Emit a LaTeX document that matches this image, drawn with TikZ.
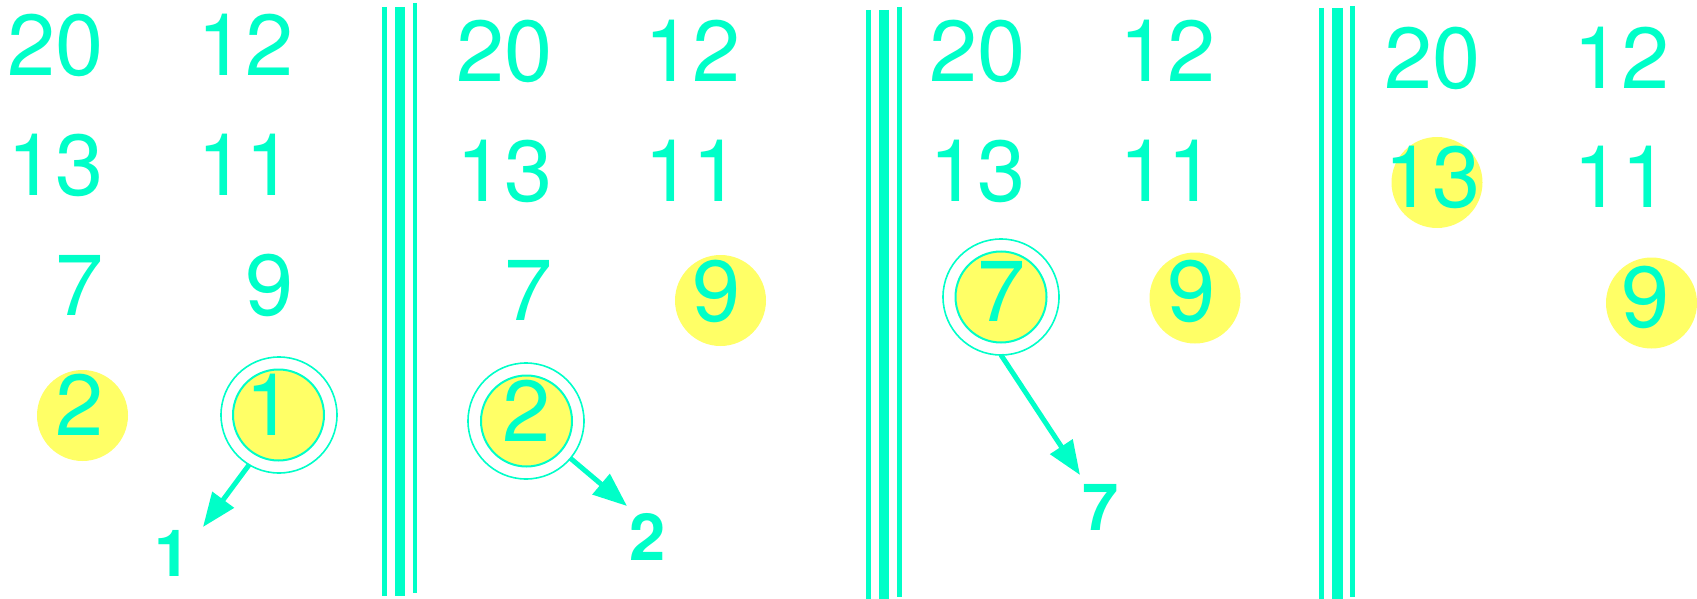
\documentclass[tikz,border=0pt]{standalone}
\usepackage{fontspec}
\setmainfont{TeX Gyre Heros}
\newfontfamily\numfont{TeX Gyre Heros}
\usetikzlibrary{arrows.meta}
\definecolor{teal2}{HTML}{00FFC8}
\definecolor{yel}{HTML}{FFFF66}
\begin{document}
\begin{tikzpicture}[x=1pt,y=-1pt,
  num/.style={anchor=base east, inner sep=0, outer sep=0, text=teal2, font=\numfont\fontsize{86.6}{90}\selectfont},
  lab/.style={anchor=base west, inner sep=0, outer sep=0, text=teal2, font=\numfont\fontsize{65}{70}\selectfont\bfseries},
  disk/.style={circle, fill=yel, minimum size=91pt, inner sep=0, outer sep=0},
  ringout/.style={circle, draw=teal2, line width=1.6pt, minimum size=116pt, inner sep=0, outer sep=0},
  ringin/.style={circle, fill=yel, draw=teal2, line width=2pt, minimum size=91pt, inner sep=0, outer sep=0},
  thinbar/.style={draw=teal2, line width=4.5pt},
  thickbar/.style={draw=teal2, line width=10.5pt},
  pick/.style={draw=teal2, line width=5pt, -{Triangle[length=34pt,width=26pt]}}
]
\useasboundingbox (0,0) rectangle (1697,599);

% separators
\draw[thinbar] (384.5,7) -- (384.5,596);
\draw[thickbar] (400,7) -- (400,596);
\draw[thinbar] (415,3) -- (415,593);
\draw[thinbar] (868.5,10) -- (868.5,599);
\draw[thickbar] (884,10) -- (884,599);
\draw[thinbar] (899.5,7) -- (899.5,597);
\draw[thinbar] (1321.5,8) -- (1321.5,599);
\draw[thickbar] (1337.5,8) -- (1337.5,599);
\draw[thinbar] (1352.5,6) -- (1352.5,597);

% circles
\node[disk] (d1) at (82.5,415.5) {};
\node[ringout] (c1o) at (279,415) {};
\node[ringin] (c1i) at (278.5,415) {};
\node[disk] (d2) at (720.5,300.5) {};
\node[ringout] (c2o) at (526,421) {};
\node[ringin] (c2i) at (526.5,421) {};
\node[disk] (d3) at (1195,298) {};
\node[ringout] (c3o) at (1001,297) {};
\node[ringin] (c3i) at (1001,297) {};
\node[disk] (d4a) at (1437,182.5) {};
\node[disk] (d4b) at (1651.5,303) {};

% panel 1
\node[num] (p1a) at (103.5,76) {20};
\node[num] (p1b) at (293.5,76) {12};
\node[num] (p1c) at (103.5,195) {13};
\node[num] (p1d) at (293.5,195) {11};
\node[num] (p1e) at (103.5,315) {7};
\node[num] (p1f) at (293.5,315) {9};
\node[num] (p1g) at (103.5,435) {2};
\node[num] (p1h) at (293.5,435) {1};

% panel 2
\node[num] (p2a) at (553,82) {20};
\node[num] (p2b) at (740.5,82) {12};
\node[num] (p2c) at (553,201) {13};
\node[num] (p2d) at (740.5,201) {11};
\node[num] (p2e) at (552.5,320.5) {7};
\node[num] (p2f) at (740.5,321) {9};
\node[num] (p2g) at (551,441) {2};

% panel 3
\node[num] (p3a) at (1026,82) {20};
\node[num] (p3b) at (1215.5,82) {12};
\node[num] (p3c) at (1026,201) {13};
\node[num] (p3d) at (1215.5,201) {11};
\node[num] (p3e) at (1026,321) {7};
\node[num] (p3f) at (1215.5,321) {9};

% panel 4
\node[num] (p4a) at (1481,88.5) {20};
\node[num] (p4b) at (1670,88.5) {12};
\node[num] (p4c) at (1481,207) {13};
\node[num] (p4d) at (1670,207) {11};
\node[num] (p4f) at (1670,327.5) {9};

% output labels and arrows
\node[lab] (o1) at (154,576) {1};
\node[lab] (o2) at (629,560) {2};
\node[lab] (o3) at (1082,530) {7};
\coordinate (t1) at (203,527);
\coordinate (t2) at (627,506);
\coordinate (t3) at (1080,475);
\draw[pick] (c1o.239) -- (t1);
\draw[pick] (c2o.320) -- (t2);
\draw[pick] (c3o.270) -- (t3);
\end{tikzpicture}
\end{document}
